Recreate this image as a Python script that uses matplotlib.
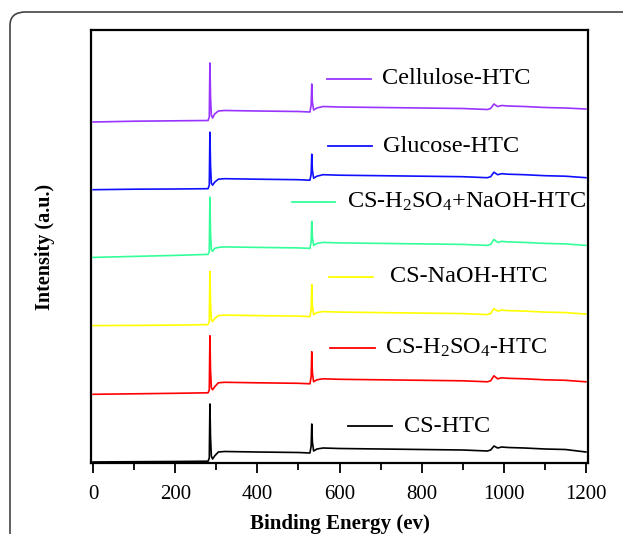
import matplotlib
matplotlib.use("Agg")
import matplotlib.pyplot as plt
from matplotlib.patches import FancyBboxPatch

plt.rcParams['font.family'] = ['Liberation Serif', 'DejaVu Serif']
plt.rcParams['mathtext.fontset'] = 'custom'
plt.rcParams['mathtext.rm'] = 'Liberation Serif'
plt.rcParams['mathtext.it'] = 'Liberation Serif:italic'

# Binding energy grid (eV) shared by all survey spectra
energy_ev = [0, 100, 200, 280, 283, 284.5, 286, 288, 291, 296, 305, 320, 400, 500,
             528, 531, 532.5, 534, 537, 545, 560, 600, 700, 800, 900, 960, 968,
             976, 985, 995, 1010, 1050, 1100, 1150, 1200]

# Intensities (a.u.), bottom to top
cs_htc = [1, 1.3, 1.5, 1.8, 5, 59, 26, 7, 4, 7, 11, 11.5, 11, 10.5,
          10, 17, 39, 21, 12, 14, 15, 14.5, 14, 13.5, 13, 12, 13,
          17, 15, 16, 15.5, 15, 14, 13.5, 11]
cs_h2so4_htc = [0.5, 1, 1.5, 2, 5, 59, 25, 7, 5, 8, 12, 12.5, 12, 11.5,
                11, 18, 43, 22, 13, 15, 16, 15.5, 15, 14.5, 14, 13, 14,
                19, 16, 17, 16.5, 16, 15, 14.5, 13]
cs_naoh_htc = [1, 1.2, 1.5, 2, 5, 55, 24, 7, 5, 8, 11, 11.5, 11, 10.5,
               10, 17, 42, 21, 12, 14, 15, 14.5, 14, 13.5, 13, 12, 13,
               18, 15.5, 16.5, 16, 15.5, 14.5, 14, 12.5]
cs_h2so4_naoh_htc = [1, 2, 3, 4, 7, 61, 26, 9, 7, 10, 11, 11.5, 11, 10.5,
                     10, 17, 37, 21, 13, 15, 16, 15.5, 15, 14.5, 14, 13, 14,
                     19, 16, 17, 16.5, 16, 15, 14.5, 13]
glucose_htc = [0.5, 1, 1.2, 1.5, 5, 58, 25, 7, 5, 8, 11, 11.5, 11, 10.5,
               10, 16, 36, 20, 12, 14, 15.5, 15, 14.5, 14, 13.5, 12.5, 13.5,
               18, 15.5, 16.5, 16, 15.5, 14.5, 14, 12.5]
cellulose_htc = [0, 0.8, 1.2, 1.5, 5, 59, 25, 7, 4, 8, 11, 11.5, 11, 10.5,
                 10, 17, 38, 20, 12, 14, 15.5, 15, 14.5, 14, 13.5, 12.5, 13.5,
                 18, 15.5, 16.5, 16, 15.5, 14.5, 14, 13]

series = [cs_htc, cs_h2so4_htc, cs_naoh_htc, cs_h2so4_naoh_htc, glucose_htc, cellulose_htc]
labels = ['CS-HTC', r'CS-H$_2$SO$_4$-HTC', 'CS-NaOH-HTC',
          r'CS-H$_2$SO$_4$+NaOH-HTC', 'Glucose-HTC', 'Cellulose-HTC']
colors = ['#000000', '#ff0000', '#ffff00', '#33ff99', '#1010ff', '#9933ff']

W, H = 623, 534
fig = plt.figure(figsize=(W / 100, H / 100), dpi=100)

# outer card frame, runs off the right and bottom edges
frame = FancyBboxPatch((10 / W, -0.2), 1.5, 1.2 - 12 / H,
                       boxstyle="round,pad=0,rounding_size=0.025",
                       transform=fig.transFigure, fill=False,
                       edgecolor='#444444', linewidth=1.2)
fig.patches.append(frame)

ax_l, ax_r, ax_t, ax_b = 91, 588, 30, 463
ax = fig.add_axes([ax_l / W, 1 - ax_b / H, (ax_r - ax_l) / W, (ax_b - ax_t) / H])

step = 68.2
for i, (vals, col) in enumerate(zip(series, colors)):
    ax.plot(energy_ev, [v + i * step for v in vals], color=col, lw=1.2)

ax.set_xlim(-5, 1205)
ax.set_ylim(0, ax_b - ax_t)
ax.set_xticks(range(0, 1201, 200))
ax.set_xticks(range(100, 1200, 200), minor=True)
ax.set_yticks([])
ax.tick_params(axis='x', which='major', direction='out', length=7, width=1.3,
               labelsize=15, pad=9)
ax.tick_params(axis='x', which='minor', direction='out', length=5, width=1.3)
for sp in ax.spines.values():
    sp.set_linewidth(1.6)

ax.set_xlabel('Binding Energy (ev)', fontsize=15, fontweight='bold', labelpad=7)
ax.set_ylabel('Intensity (a.u.)', fontsize=14.5, fontweight='bold', labelpad=26)

# hand placed legend entries (pixel positions in the original figure)
legend_pos = [(348, 392, 426, 404), (330, 375, 348, 385), (329, 373, 277, 390),
              (292, 335, 202, 347), (328, 372, 146, 383), (327, 371, 79, 382)]
for (x0, x1, y, tx), lab, col in zip(legend_pos, labels, colors):
    fx0 = (x0 - ax_l) / (ax_r - ax_l)
    fx1 = (x1 - ax_l) / (ax_r - ax_l)
    fy = (ax_b - y) / (ax_b - ax_t)
    ax.plot([fx0, fx1], [fy, fy], color=col, lw=1.3, transform=ax.transAxes)
    ax.text((tx - ax_l) / (ax_r - ax_l), fy, lab, transform=ax.transAxes,
            fontsize=17.5, va='center', ha='left')

fig.savefig('out.png', dpi=100)
